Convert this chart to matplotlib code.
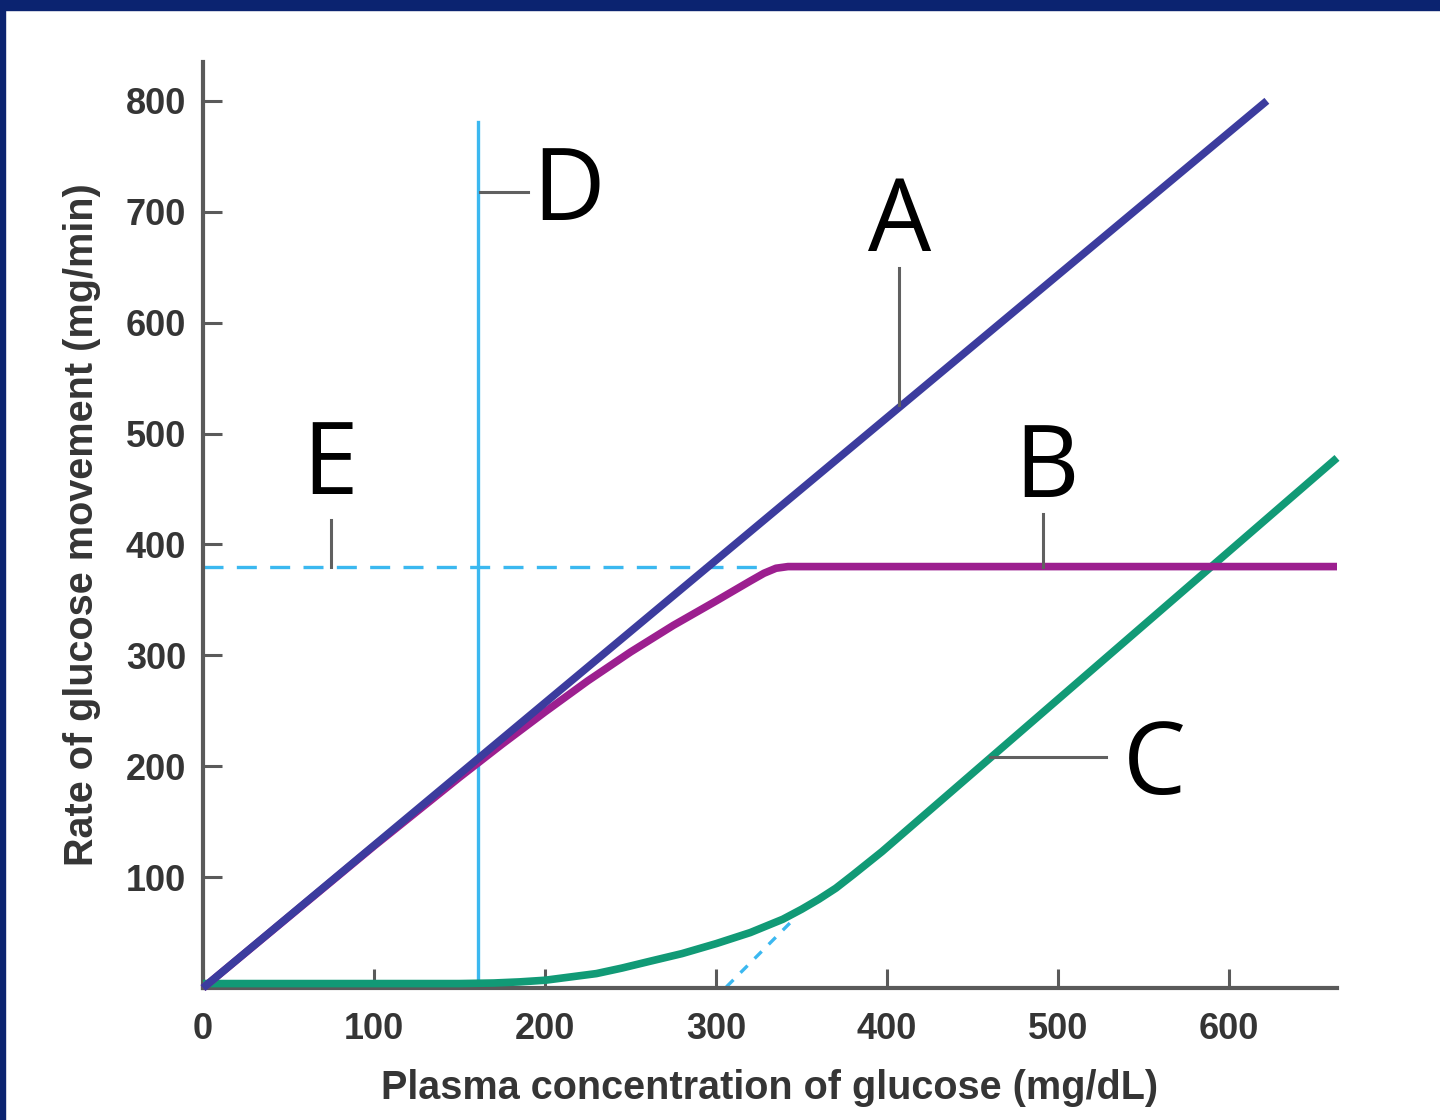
import matplotlib
matplotlib.use('Agg')
import matplotlib.pyplot as plt
from matplotlib.patches import Rectangle

# values (x: plasma glucose mg/dL, y: mg/min)
a_x = [0, 622]
a_y = [0, 800]

b_x = [0, 100, 150, 175, 200, 225, 250, 275, 300, 310, 320, 328, 335, 342, 663]
b_y = [0, 128, 190, 220, 249, 277, 303, 327, 349, 358, 367, 374, 378.5, 380, 380]

c_x = [0, 150, 170, 185, 200, 215, 230, 245, 261, 280, 300, 320, 339,
       350, 360, 370, 380, 397, 663]
c_y = [4, 4, 4.5, 5.5, 7, 10, 13, 18, 24, 31, 40, 50, 62,
       71, 80, 90, 102, 123, 478]

c_ext_x = [306, 346]
c_ext_y = [1, 63]

d_x = 161
d_top = 781
e_y = 380
e_end = 330

x_ticks = [0, 100, 200, 300, 400, 500, 600]
y_ticks = [100, 200, 300, 400, 500, 600, 700, 800]

AXIS_GRAY = '#5a5a5a'
TEXT_GRAY = '#353535'
COL_A = '#3c3c9e'
COL_B = '#9c1f8f'
COL_C = '#119a76'
COL_DE = '#3bb8f0'

fig = plt.figure(figsize=(14.4, 11.2), dpi=100)
fig.patch.set_facecolor('white')

# navy frame strips along top and left edge
fig.patches.append(Rectangle((0, 1 - 10 / 1120), 1, 10 / 1120, transform=fig.transFigure,
                             color='#0b2370', zorder=0))
fig.patches.append(Rectangle((0, 0), 5 / 1440, 1, transform=fig.transFigure,
                             color='#0b2370', zorder=0))

ax = fig.add_axes([203 / 1440, 132 / 1120, (1337 - 203) / 1440, (988 - 62) / 1120])
ax.set_xlim(0, 663)
ax.set_ylim(0, 835)

for s in ['top', 'right']:
    ax.spines[s].set_visible(False)
for s in ['left', 'bottom']:
    ax.spines[s].set_color(AXIS_GRAY)
    ax.spines[s].set_linewidth(3)

ax.set_xticks(x_ticks)
ax.set_yticks(y_ticks)
ax.tick_params(axis='both', direction='in', length=14, width=2.2, color=AXIS_GRAY,
               labelsize=26, labelcolor=TEXT_GRAY)
ax.tick_params(axis='x', pad=17)
ax.tick_params(axis='y', pad=12)
for lbl in ax.get_xticklabels() + ax.get_yticklabels():
    lbl.set_fontfamily('Liberation Sans')
    lbl.set_fontweight('bold')

ax.set_xlabel('Plasma concentration of glucose (mg/dL)', fontsize=28.5, fontweight='bold',
              family='Liberation Sans', color=TEXT_GRAY, labelpad=16)
ax.set_ylabel('Rate of glucose movement (mg/min)', fontsize=28.5, fontweight='bold',
              family='Liberation Sans', color=TEXT_GRAY, labelpad=18)

# D and E reference lines
ax.plot([d_x, d_x], [0, d_top], color=COL_DE, lw=2.4, zorder=2)
ax.plot([0, e_end], [e_y, e_y], color=COL_DE, lw=2.4, dashes=(6, 4), zorder=2)
ax.plot(c_ext_x, c_ext_y, color=COL_DE, lw=2.4, dashes=(3, 3), zorder=2)

# curves
ax.plot(c_x, c_y, color=COL_C, lw=5.5, solid_capstyle='butt', solid_joinstyle='round',
        zorder=3, clip_on=False)
ax.plot(b_x, b_y, color=COL_B, lw=5.5, solid_capstyle='butt', solid_joinstyle='round',
        zorder=3, clip_on=False)
ax.plot(a_x, a_y, color=COL_A, lw=5.5, solid_capstyle='butt', zorder=4, clip_on=False)

# leader lines
lead = dict(color='#606060', lw=2.2, zorder=5)
ax.plot([162, 190], [718, 718], **lead)       # D
ax.plot([407, 407], [526, 649], **lead)       # A
ax.plot([75, 75], [380, 422], **lead)         # E
ax.plot([491, 491], [380, 427], **lead)       # B
ax.plot([460, 528], [208, 208], **lead)       # C

lab = dict(fontsize=72, family='Open Sans', color='black', ha='center', va='center')
ax.text(214, 716, 'D', **lab)
ax.text(407, 688, 'A', **lab)
ax.text(74, 469, 'E', **lab)
ax.text(493, 466, 'B', **lab)
ax.text(556, 199, 'C', **lab)

fig.savefig('out.png', dpi=100)
